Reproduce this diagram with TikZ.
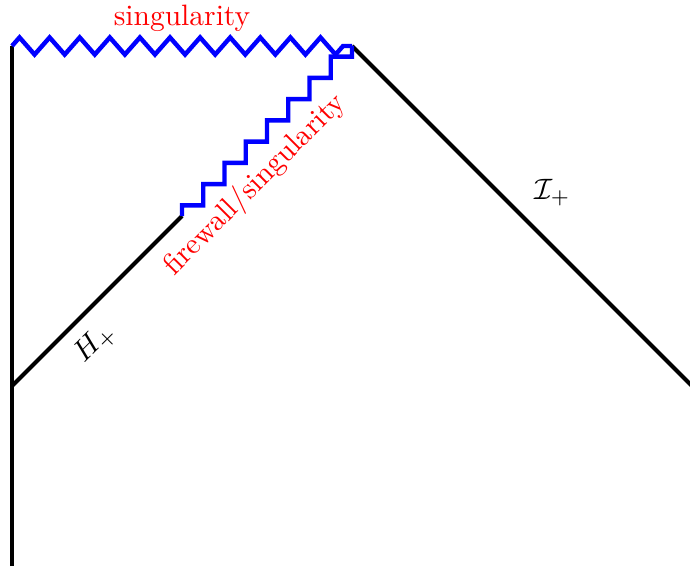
\documentclass[tikz,border=0pt]{standalone}
\usepackage{amsmath,amssymb}
\usepackage{tikz}
\usetikzlibrary{decorations.pathmorphing}

\begin{document}
\begin{tikzpicture}[
  x=0.405cm, y=0.405cm,
  horizon/.style={draw=black,line width=1.35pt},
  sing/.style={draw=blue,line width=1.5pt},
  zigzagline/.style={sing,decorate,
    decoration={zigzag,segment length=10.2pt,amplitude=2.9pt}},
  singlabel/.style={text=red},
  stairstep/.store in=\stairstep, stairstep=0.625
]
\useasboundingbox (-0.353,-5.294) rectangle (19.94,11.353);
% corners of the diagram
\coordinate (bottom) at (0,-5.3);
\coordinate (origin) at (0,0);
\coordinate (topleft) at (0,10);
\coordinate (wall) at (5,5);
\coordinate (topright) at (10,10);
\coordinate (rightend) at (20,0);
% boundaries
\draw[horizon] (bottom) -- (topleft);
\draw[horizon] (origin) -- (wall);
\draw[horizon] (topright) -- (rightend);
\draw[zigzagline] (topleft) -- (topright);
\draw[sing] (wall) -- ++(0,\stairstep/2)
  \foreach \i in {1,...,7}{ -- ++(\stairstep,0) -- ++(0,\stairstep) }
  -- ++(\stairstep,0) -- (topright);
% labels
\node[singlabel] (singtop) at (5,10.82) {singularity};
\node[singlabel,rotate=45] (firewall) at (7.15,5.91) {firewall/singularity};
\node[rotate=45] (horizonlabel) at (2.44,1.26) {$H_+$};
\node (scrilabel) at (15.9,5.68) {$\mathcal{I}_+$};
\end{tikzpicture}
\end{document}
